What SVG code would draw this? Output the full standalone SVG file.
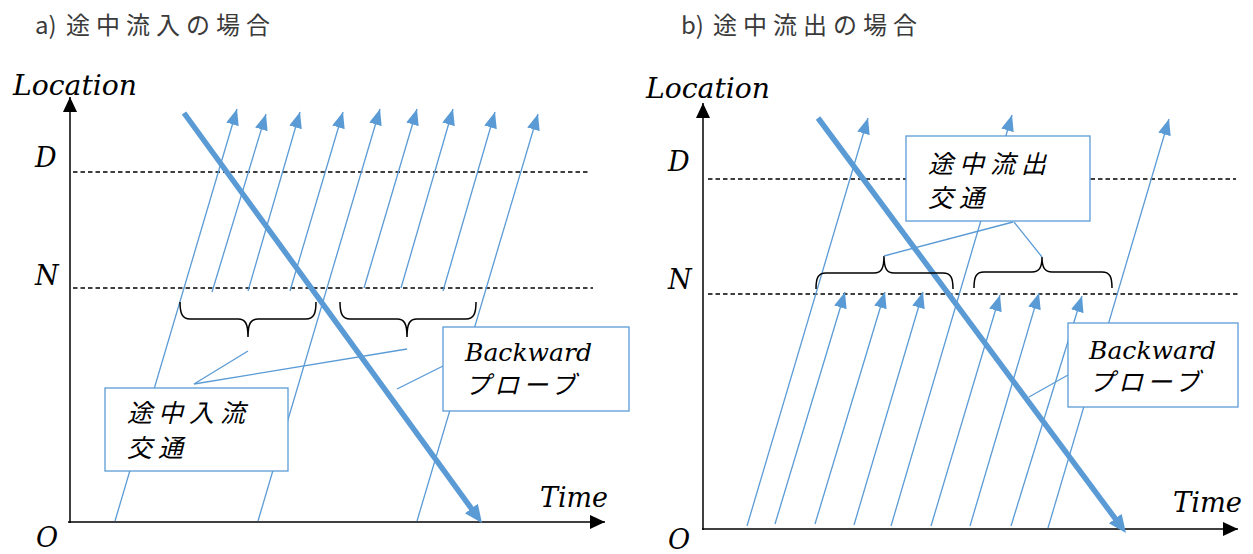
<svg xmlns="http://www.w3.org/2000/svg" width="1253" height="554" viewBox="0 0 1253 554">
<defs>
<style>
.title{font-family:"Noto Sans CJK JP","Noto Sans",sans-serif;font-size:24px;fill:#3a3a3a;}
.lat{font-family:"DejaVu Serif","Liberation Serif",serif;font-style:italic;font-size:27px;fill:#000;}
.lab{font-family:"DejaVu Serif","Liberation Serif",serif;font-style:italic;font-size:25px;fill:#000;}
.jp{font-family:"Noto Sans CJK JP",sans-serif;font-style:italic;font-size:25px;fill:#000;letter-spacing:6px;}
.axis{stroke:#000;stroke-width:1.5;fill:none;}
.dash{stroke:#000;stroke-width:1.3;stroke-dasharray:4.5 3;fill:none;}
.thin{stroke:#5B9BD5;stroke-width:1.3;fill:none;}
.thinA{stroke:#5B9BD5;stroke-width:1.3;fill:none;marker-end:url(#ah);}
.thick{stroke:#5B9BD5;stroke-width:5.5;fill:none;marker-end:url(#ahT);}
.brace{stroke:#000;stroke-width:1.5;fill:none;}
.box{fill:#fff;stroke:#5B9BD5;stroke-width:1.3;}
</style>
<marker id="ah" markerUnits="userSpaceOnUse" markerWidth="17" markerHeight="14" refX="16" refY="6.5" orient="auto"><path d="M0,0 L16,6.5 L0,13 z" fill="#5B9BD5"/></marker>
<marker id="ahT" markerUnits="userSpaceOnUse" markerWidth="19" markerHeight="17" refX="6" refY="8" orient="auto"><path d="M0,0 L18,8 L0,16 z" fill="#5B9BD5"/></marker>
<marker id="ahK" markerUnits="userSpaceOnUse" markerWidth="16" markerHeight="15" refX="15" refY="7" orient="auto"><path d="M0,0 L15,7 L0,14 z" fill="#000"/></marker>
</defs>
<rect width="1253" height="554" fill="#fff"/>

<!-- Panel a -->
<g id="panel-a-title"><text class="title" x="35" y="34">a)<tspan x="66" letter-spacing="6">途中流入の場合</tspan></text></g>
<g id="panel-a-axes">
<line class="axis" x1="70" y1="523" x2="70" y2="97" style="marker-end:url(#ahK)"/>
<line class="axis" x1="68" y1="522" x2="605" y2="522" style="marker-end:url(#ahK)"/>
<line class="dash" x1="73" y1="172" x2="588" y2="172"/>
<line class="dash" x1="73" y1="288" x2="593" y2="288"/>
<text class="lat" x="13" y="95" textLength="124" lengthAdjust="spacingAndGlyphs">Location</text>
<text class="lat" x="35" y="167">D</text>
<text class="lat" x="35" y="285">N</text>
<text class="lat" x="36" y="547">O</text>
<text class="lat" x="540" y="507" textLength="68" lengthAdjust="spacingAndGlyphs">Time</text>
</g>
<g id="connectors-a">
<line class="thinA" x1="115" y1="521" x2="237" y2="109"/>
<line class="thinA" x1="212" y1="292" x2="266" y2="114"/>
<line class="thinA" x1="248" y1="291" x2="300" y2="112"/>
<line class="thinA" x1="290" y1="291" x2="343" y2="112"/>
<line class="thinA" x1="258" y1="521" x2="380" y2="109"/>
<line class="thinA" x1="364" y1="288" x2="417" y2="109"/>
<line class="thinA" x1="401" y1="288" x2="453" y2="109"/>
<line class="thinA" x1="443" y1="291" x2="495" y2="112"/>
<line class="thinA" x1="417" y1="521" x2="538" y2="114"/>
<line class="thick" x1="184" y1="113" x2="474.9" y2="513.3"/>
<path class="brace" d="M180,302 C180,313 182,319 190,319 H238 C245,319 248,323 248,337 C248,323 251,319 258,319 H306 C314,319 316,313 316,302"/>
<path class="brace" d="M340,302 C340,313 342,319 350,319 H397 C404,319 407,323 407,337 C407,323 410,319 417,319 H466 C474,319 476,313 476,302"/>
<line class="thin" x1="248" y1="351" x2="194" y2="384"/>
<line class="thin" x1="407" y1="349" x2="194" y2="384"/>
<line class="thin" x1="443" y1="366" x2="397" y2="389"/>
</g>
<g id="box-inflow">
<rect class="box" x="105" y="388" width="183" height="83"/>
<text class="jp" x="127" y="422">途中入流</text>
<text class="jp" x="127" y="457">交通</text>
</g>
<g id="box-backward-a">
<rect class="box" x="443" y="327" width="186" height="84"/>
<text class="lab" x="465" y="361" textLength="127" lengthAdjust="spacingAndGlyphs">Backward</text>
<text class="jp" x="465" y="394" style="letter-spacing:4px">プローブ</text>
</g>

<!-- Panel b -->
<g id="panel-b-title"><text class="title" x="681" y="34">b)<tspan x="713" letter-spacing="6">途中流出の場合</tspan></text></g>
<g id="panel-b-axes">
<line class="axis" x1="703" y1="530" x2="703" y2="103" style="marker-end:url(#ahK)"/>
<line class="axis" x1="702" y1="529" x2="1238" y2="529" style="marker-end:url(#ahK)"/>
<line class="dash" x1="708" y1="179" x2="1236" y2="179"/>
<line class="dash" x1="708" y1="294" x2="1240" y2="294"/>
<text class="lat" x="646" y="98" textLength="124" lengthAdjust="spacingAndGlyphs">Location</text>
<text class="lat" x="668" y="171">D</text>
<text class="lat" x="668" y="289">N</text>
<text class="lat" x="668" y="549">O</text>
<text class="lat" x="1173" y="512" textLength="69" lengthAdjust="spacingAndGlyphs">Time</text>
</g>
<g id="connectors-b">
<line class="thinA" x1="747" y1="526" x2="868" y2="118"/>
<line class="thinA" x1="775" y1="524" x2="845" y2="292"/>
<line class="thinA" x1="815" y1="524" x2="885" y2="292"/>
<line class="thinA" x1="854" y1="525" x2="923" y2="292"/>
<line class="thinA" x1="891" y1="526" x2="1012" y2="115"/>
<line class="thinA" x1="931" y1="526" x2="1000" y2="295"/>
<line class="thinA" x1="970" y1="526" x2="1039" y2="293"/>
<line class="thinA" x1="1011" y1="526" x2="1082" y2="296"/>
<line class="thinA" x1="1048" y1="528" x2="1169" y2="119"/>
<line class="thick" x1="818" y1="118" x2="1118.8" y2="523.4"/>
<path class="brace" d="M816,289 C816,278 818,273 826,273 H874 C881,273 884,269 884,256 C884,269 887,273 894,273 H943 C951,273 953,278 953,289"/>
<path class="brace" d="M974,288 C974,277 976,272 984,272 H1032 C1039,272 1042,268 1042,257 C1042,268 1045,272 1052,272 H1102 C1110,272 1112,277 1112,288"/>
<line class="thin" x1="884" y1="256" x2="1013" y2="222"/>
<line class="thin" x1="1042" y1="257" x2="1014" y2="222"/>
<line class="thin" x1="1068" y1="375" x2="1029" y2="397"/>
</g>
<g id="box-outflow">
<rect class="box" x="906" y="136" width="184" height="85"/>
<text class="jp" x="928" y="173">途中流出</text>
<text class="jp" x="928" y="207">交通</text>
</g>
<g id="box-backward-b">
<rect class="box" x="1068" y="323" width="170" height="84"/>
<text class="lab" x="1089" y="359" textLength="127" lengthAdjust="spacingAndGlyphs">Backward</text>
<text class="jp" x="1089" y="391" style="letter-spacing:4px">プローブ</text>
</g>
</svg>
